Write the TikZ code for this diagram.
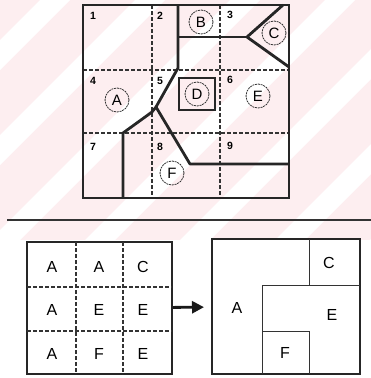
\documentclass[tikz,border=0pt]{standalone}
\usepackage{fontspec}
\setmainfont{Liberation Sans}
\usetikzlibrary{arrows.meta}

\definecolor{wash}{HTML}{FDEEF0}

\begin{document}
\begin{tikzpicture}[
    x=1pt, y=-1pt,
    wall/.style={
      draw=black!85,
      line width=2.8pt,
      line join=round
    },
    frame/.style={
      draw=black!85,
      line width=2.4pt
    },
    grid/.style={
      draw=black!80,
      line width=1.3pt,
      dash pattern=on 3.5pt off 2.5pt
    },
    cellno/.style={
      font=\fontsize{10.5}{10.5}\selectfont\bfseries,
      inner sep=0pt
    },
    zone/.style={
      circle,
      draw=black!80,
      dash pattern=on 2pt off 0.8pt,
      line width=0.8pt,
      minimum size=24pt,
      inner sep=0pt,
      font=\fontsize{15}{15}\selectfont
    },
    tag/.style={
      font=\fontsize{16}{16}\selectfont,
      inner sep=0pt
    },
    box/.style={
      draw=black!85,
      line width=2pt,
      inner sep=0pt
    },
    split/.style={
      draw=black!80,
      line width=1pt
    },
    flow/.style={
      -{Triangle[length=12pt,width=12pt]},
      draw=black!90,
      line width=2.8pt,
      shorten <=0pt,
      shorten >=7pt
    }
  ]
    \useasboundingbox (0,0) rectangle (371,378);

    % faint washed background
    \begin{scope}
      \clip (0,0) rectangle (371,240);
      \fill[wash] (0,0) rectangle (371,240);
      \foreach \c in {40,135,230,325,420,515,610}
        \fill[white] (\c,0) -- (\c+30,0) -- (\c+30-240,240) -- (\c-240,240) -- cycle;
    \end{scope}

    % top map: grid
    \draw[grid] (152,5) -- (152,198);
    \draw[grid] (220,5) -- (220,198);
    \draw[grid] (83,70) -- (289,70);
    \draw[grid] (83,133) -- (289,133);

    % top map: walls
    \draw[wall] (178,5) -- (178,68) -- (156,107) -- (152,112) -- (123,133) -- (123,198);
    \draw[wall] (178,37) -- (247,37);
    \draw[wall] (283,5) -- (247,37) -- (289,67);
    \draw[wall] (156,107) -- (190,164) -- (289,164);
    \draw[draw=black!85, line width=1.2pt] (179,78) rectangle (215,110);
    \draw[frame] (83,5) rectangle (289,198);

    % cell numbers
    \node[cellno] (n1) at (93,16) {1};
    \node[cellno] (n2) at (160,16) {2};
    \node[cellno] (n3) at (230,15) {3};
    \node[cellno] (n4) at (93,81) {4};
    \node[cellno] (n5) at (160,81) {5};
    \node[cellno] (n6) at (230,80) {6};
    \node[cellno] (n7) at (93,147) {7};
    \node[cellno] (n8) at (160,147) {8};
    \node[cellno] (n9) at (230,146) {9};

    % zones
    \node[zone] (zA) at (117,100) {A};
    \node[zone] (zB) at (201,22) {B};
    \node[zone] (zC) at (274,33) {C};
    \node[zone] (zD) at (197,94) {D};
    \node[zone] (zE) at (258,96) {E};
    \node[zone] (zF) at (172,173) {F};

    % separator
    \draw[draw=black!80, line width=1.2pt] (7,220) -- (371,220);

    % bottom left: cell assignment
    \node[box, minimum width=145pt, minimum height=132pt] (assign) at (99.5,308) {};
    \draw[grid] (76,242) -- (76,374);
    \draw[grid] (123,242) -- (123,374);
    \draw[grid] (27,287) -- (172,287);
    \draw[grid] (27,331) -- (172,331);
    \node[tag] (a11) at (52,267) {A};
    \node[tag] (a12) at (99,267) {A};
    \node[tag] (a13) at (143,267) {C};
    \node[tag] (a21) at (52,310) {A};
    \node[tag] (a22) at (99,310) {E};
    \node[tag] (a23) at (143,310) {E};
    \node[tag] (a31) at (52,354) {A};
    \node[tag] (a32) at (99,354) {F};
    \node[tag] (a33) at (143,354) {E};

    % bottom right: result
    \node[box, minimum width=148pt, minimum height=135pt] (result) at (286,306.5) {};
    \draw[split] (309,239) -- (309,285) -- (262,285) -- (262,374);
    \draw[split] (309,285) -- (360,285);
    \draw[split] (262,331) -- (309,331) -- (309,374);
    \node[tag] (rC) at (329,263) {C};
    \node[tag] (rA) at (237,308) {A};
    \node[tag] (rE) at (332,315) {E};
    \node[tag] (rF) at (285,353) {F};

    \draw[flow] (assign) -- (result);
  \end{tikzpicture}
\end{document}
